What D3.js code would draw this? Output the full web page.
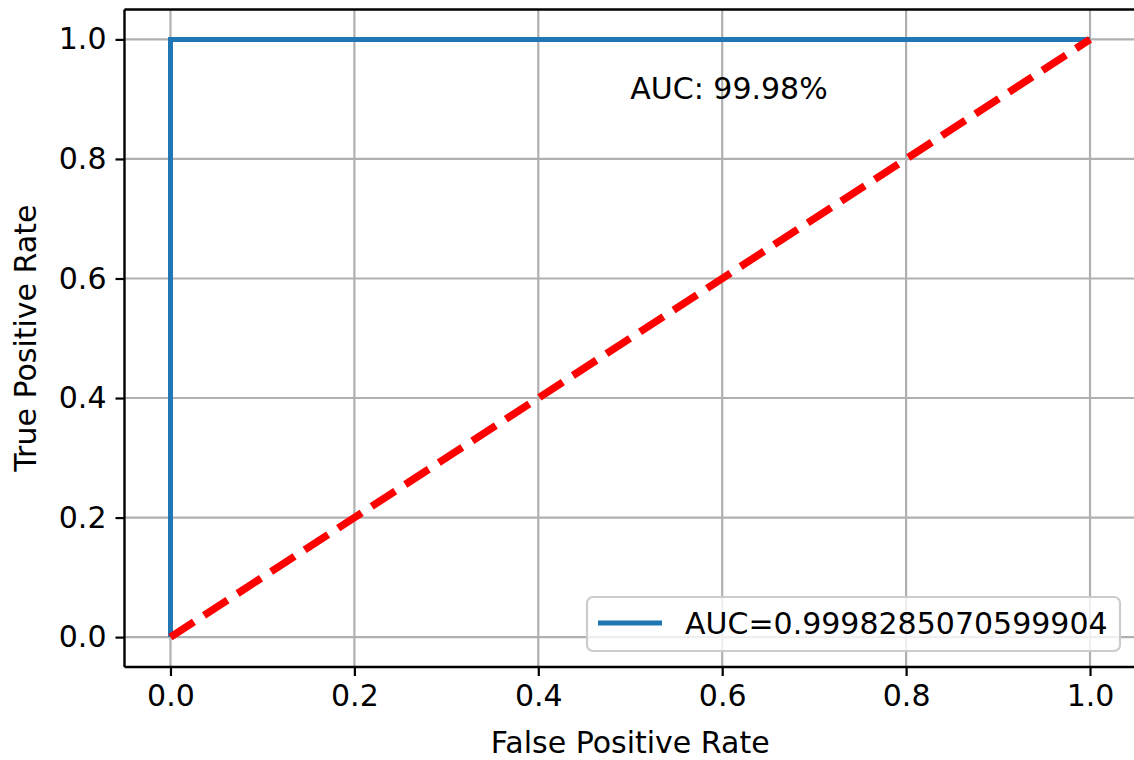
<!DOCTYPE html>
<html>
<head>
<meta charset="utf-8">
<script src="https://cdn.jsdelivr.net/npm/d3@7"></script>
<style>
  html, body { margin: 0; padding: 0; background: #fff; }
  text { font-family: "DejaVu Sans", sans-serif; fill: #000; }
</style>
</head>
<body>
<svg id="chart" width="1134" height="760"></svg>
<script>
// ---- data ----
const fpr = [0, 0, 1];
const tpr = [0, 1, 1];
const chanceX = [0, 1];
const chanceY = [0, 1];
const xTicks = [0, 0.2, 0.4, 0.6, 0.8, 1.0];
const yTicks = [0, 0.2, 0.4, 0.6, 0.8, 1.0];
const legendLabel = "AUC=0.9998285070599904";
const annotation = "AUC: 99.98%";
const annotationPos = [0.5, 0.9];
const xLabel = "False Positive Rate";
const yLabel = "True Positive Rate";

(function () {
// ---- layout ----
const svg = d3.select("#chart");
const pL = 124.5, pR = 1136, pT = 9.5, pB = 667;
const fs = 30;

const x = d3.scaleLinear().domain([-0.05, 1.05]).range([pL, pR]);
const y = d3.scaleLinear().domain([-0.05, 1.05]).range([pB, pT]);

svg.append("defs").append("clipPath").attr("id", "clip")
  .append("rect").attr("x", pL).attr("y", pT)
  .attr("width", pR - pL).attr("height", pB - pT);

// grid
const grid = svg.append("g");
grid.selectAll(".gx").data(xTicks).enter().append("line")
  .attr("x1", d => x(d)).attr("x2", d => x(d))
  .attr("y1", pT).attr("y2", pB)
  .attr("stroke", "#b0b0b0").attr("stroke-width", 2.2);
grid.selectAll(".gy").data(yTicks).enter().append("line")
  .attr("y1", d => y(d)).attr("y2", d => y(d))
  .attr("x1", pL).attr("x2", pR)
  .attr("stroke", "#b0b0b0").attr("stroke-width", 2.2);

const plot = svg.append("g").attr("clip-path", "url(#clip)");

const line = d3.line().x(d => x(d[0])).y(d => y(d[1]));

plot.append("path")
  .datum(fpr.map((v, i) => [v, tpr[i]]))
  .attr("d", line)
  .attr("fill", "none")
  .attr("stroke", "#1f77b4")
  .attr("stroke-width", 5)
  .attr("stroke-linejoin", "miter")
  .attr("stroke-linecap", "butt");

plot.append("path")
  .datum(chanceX.map((v, i) => [v, chanceY[i]]))
  .attr("d", line)
  .attr("fill", "none")
  .attr("stroke", "#ff0000")
  .attr("stroke-width", 7.5)
  .attr("stroke-dasharray", "28,12")
  .attr("stroke-linecap", "butt");

// annotation
svg.append("text")
  .attr("x", x(annotationPos[0]))
  .attr("y", y(annotationPos[1]))
  .attr("font-size", fs)
  .text(annotation);

// axes
const xAxis = d3.axisBottom(x).tickValues(xTicks).tickFormat(d3.format(".1f")).tickSize(9).tickPadding(9);
const yAxis = d3.axisLeft(y).tickValues(yTicks).tickFormat(d3.format(".1f")).tickSize(9).tickPadding(9);

const gx = svg.append("g").attr("transform", `translate(0,${pB})`).call(xAxis);
const gy = svg.append("g").attr("transform", `translate(${pL},0)`).call(yAxis);
[gx, gy].forEach(g => {
  g.select(".domain").remove();
  g.selectAll(".tick line").attr("stroke", "#000").attr("stroke-width", 2.2);
  g.selectAll(".tick text").attr("font-size", fs).attr("font-family", "DejaVu Sans").attr("fill", "#000");
});

// spines
const spine = svg.append("g").attr("stroke", "#000").attr("stroke-width", 2.4);
spine.append("line").attr("x1", pL).attr("x2", pL).attr("y1", pT).attr("y2", pB);
spine.append("line").attr("x1", pL).attr("x2", pR).attr("y1", pB).attr("y2", pB);
spine.append("line").attr("x1", pL).attr("x2", pR).attr("y1", pT).attr("y2", pT);
spine.append("line").attr("x1", pR).attr("x2", pR).attr("y1", pT).attr("y2", pB);

// axis labels
svg.append("text")
  .attr("x", (pL + pR) / 2)
  .attr("y", 753)
  .attr("text-anchor", "middle")
  .attr("font-size", fs)
  .text(xLabel);
svg.append("text")
  .attr("transform", `translate(36,${(pT + pB) / 2}) rotate(-90)`)
  .attr("text-anchor", "middle")
  .attr("font-size", fs)
  .text(yLabel);

// legend
const lg = svg.append("g");
const lx = 587, ly = 597, lw = 533, lh = 54;
lg.append("rect")
  .attr("x", lx).attr("y", ly).attr("width", lw).attr("height", lh)
  .attr("rx", 6).attr("ry", 6)
  .attr("fill", "rgba(255,255,255,0.8)")
  .attr("stroke", "#cccccc").attr("stroke-width", 2.2);
lg.append("line")
  .attr("x1", 598).attr("x2", 662).attr("y1", 623).attr("y2", 623)
  .attr("stroke", "#1f77b4").attr("stroke-width", 5);
lg.append("text")
  .attr("x", 685).attr("y", 634)
  .attr("font-size", fs)
  .text(legendLabel);
})();
</script>
</body>
</html>
